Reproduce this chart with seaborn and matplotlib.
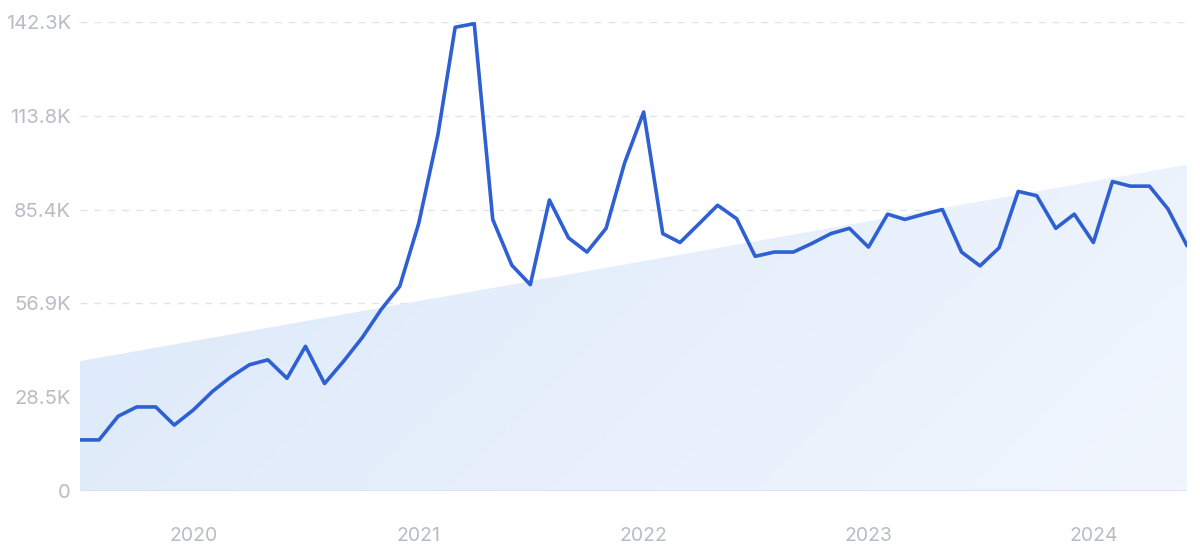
import numpy as np
import pandas as pd
import matplotlib
matplotlib.use("Agg")
import matplotlib.pyplot as plt
import matplotlib.dates as mdates
from matplotlib.colors import LinearSegmentedColormap
import seaborn as sns

# monthly search volume, Jul 2019 - Jun 2024 (thousands)
months = pd.date_range("2019-07-01", "2024-06-01", freq="MS")
volume = [15.5, 15.5, 22.7, 25.5, 25.5, 20.0, 24.6, 30.2, 34.5, 38.3,
          39.8, 34.2, 43.9, 32.6, 39.4, 46.5, 55.1, 62.1, 81.3, 108.1,
          140.7, 141.8, 82.4, 68.5, 62.6, 88.3, 76.8, 72.5, 79.7, 99.5,
          115.0, 78.1, 75.4, 81.1, 86.7, 82.6, 71.2, 72.5, 72.5, 75.1,
          78.1, 79.7, 74.0, 84.0, 82.4, 84.0, 85.4, 72.5, 68.3, 73.8,
          90.9, 89.6, 79.7, 84.0, 75.4, 93.9, 92.5, 92.5, 85.6, 74.4]
trend_ends = [39.4, 99.0]
y_ticks = [0, 28.5, 56.9, 85.4, 113.8, 142.3]
y_labels = ["0", "28.5K", "56.9K", "85.4K", "113.8K", "142.3K"]

df = pd.DataFrame({"month": months, "volume": volume})

sns.set_style("white")
plt.rcParams["font.family"] = ["Inter", "DejaVu Sans"]

fig = plt.figure(figsize=(12, 5.55), dpi=100)
ax = fig.add_axes([80 / 1200, 1 - 491 / 555, 1107 / 1200, 469 / 555])

# trend area with soft gradient
x0, x1 = mdates.date2num(months[0]), mdates.date2num(months[-1])
trend = np.interp(mdates.date2num(months), [x0, x1], trend_ends)
poly = ax.fill_between(months, 0, trend, color="none", lw=0)
cmap = LinearSegmentedColormap.from_list("g", ["#dae7f9", "#f1f6fe"])
gx, gy = np.meshgrid(np.linspace(0, 1, 200), np.linspace(0, 1, 100))
grad = (gx * 0.7 + gy * 0.3)
img = ax.imshow(grad, cmap=cmap, extent=[x0, x1, 0, 142.3], aspect="auto",
                origin="upper", zorder=1)
img.set_clip_path(poly.get_paths()[0], transform=ax.transData)

sns.lineplot(data=df, x="month", y="volume", ax=ax, color="#2e5fd3",
             lw=2.6, zorder=3)

ax.set_xlim(x0, x1)
ax.set_ylim(0, 142.3)
ax.set_yticks(y_ticks)
ax.set_yticklabels(y_labels)
for t in y_ticks[1:]:
    ax.axhline(t, color="#dfe5ee", lw=1, ls=(0, (5, 5)), zorder=0)
ax.axhline(0, color="#d6e1f3", lw=1.2, zorder=2)

ax.xaxis.set_major_locator(mdates.YearLocator())
ax.xaxis.set_major_formatter(mdates.DateFormatter("%Y"))
ax.tick_params(axis="x", length=0, pad=26, labelsize=14, labelcolor="#b9bcc4")
ax.tick_params(axis="y", length=0, pad=6.5, labelsize=14.5, labelcolor="#b9bcc4")
ax.set_xlabel("")
ax.set_ylabel("")
sns.despine(ax=ax, left=True, bottom=True)

fig.savefig("out.png", dpi=100)
